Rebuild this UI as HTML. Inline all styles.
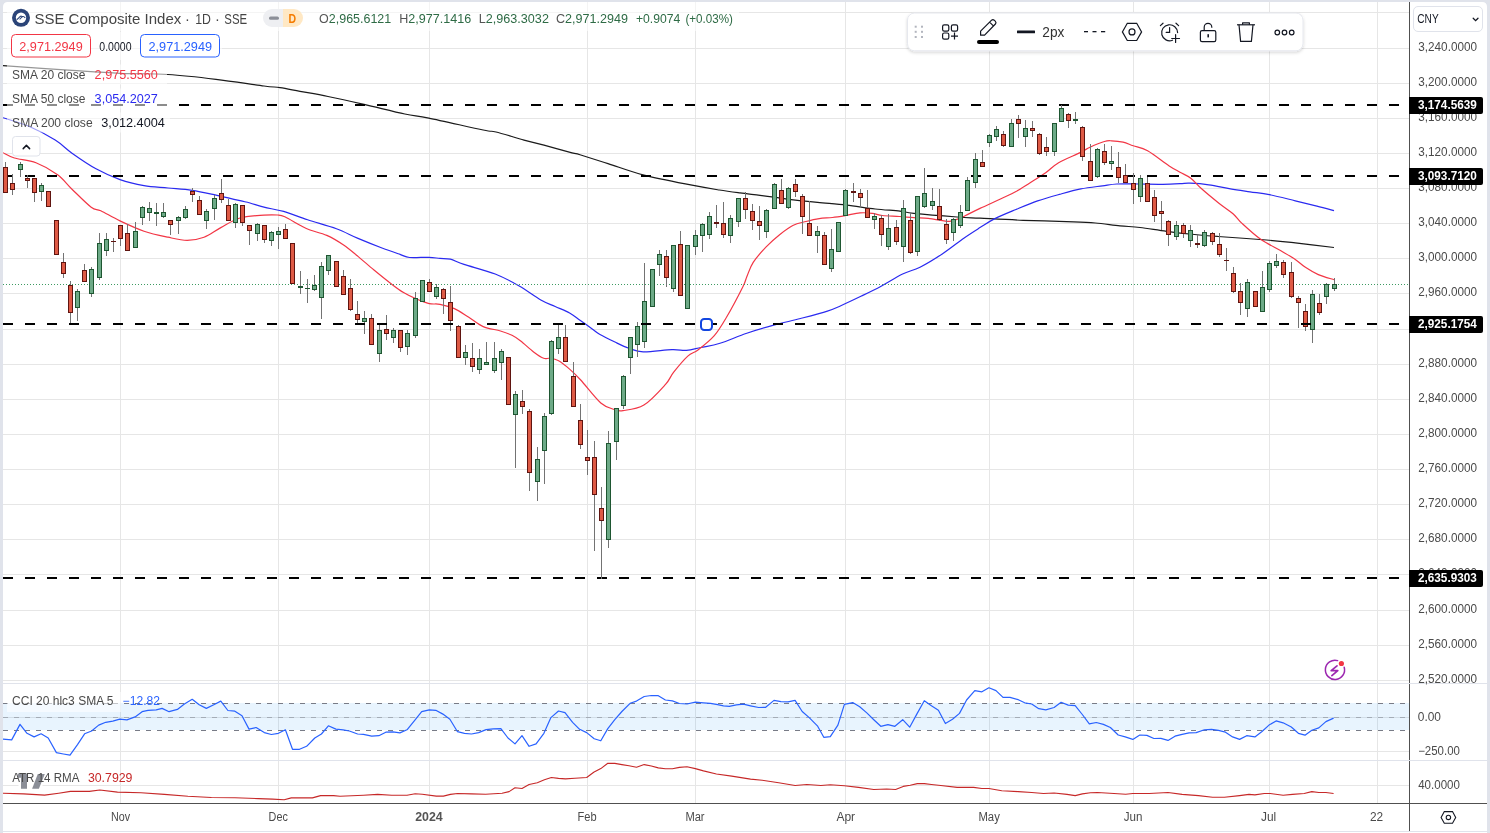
<!DOCTYPE html>
<html><head><meta charset="utf-8"><title>SSE Composite Index</title>
<style>
html,body{margin:0;padding:0;background:#e0e3eb;}
body{width:1490px;height:833px;overflow:hidden;position:relative;font-family:'Liberation Sans', Arial, sans-serif;}
svg{position:absolute;left:0;top:0;}
</style></head><body>
<svg width="1490" height="833" viewBox="0 0 1490 833">
<defs><clipPath id="mainclip"><rect x="3" y="2" width="1406" height="681"/></clipPath></defs>
<rect x="0" y="0" width="1490" height="833" fill="#e0e3eb"/>
<path d="M3,7 Q3,2 8,2 L1482,2 Q1487,2 1487,7 L1487,831 L3,831 Z" fill="#fff"/>
<rect x="3" y="832" width="1484" height="1" fill="#fff"/>
<g fill="#e6e6e6" shape-rendering="crispEdges"><rect x="3" y="12" width="1406" height="1"/><rect x="3" y="48" width="1406" height="1"/><rect x="3" y="83" width="1406" height="1"/><rect x="3" y="118" width="1406" height="1"/><rect x="3" y="153" width="1406" height="1"/><rect x="3" y="188" width="1406" height="1"/><rect x="3" y="223" width="1406" height="1"/><rect x="3" y="258" width="1406" height="1"/><rect x="3" y="293" width="1406" height="1"/><rect x="3" y="329" width="1406" height="1"/><rect x="3" y="364" width="1406" height="1"/><rect x="3" y="399" width="1406" height="1"/><rect x="3" y="434" width="1406" height="1"/><rect x="3" y="469" width="1406" height="1"/><rect x="3" y="504" width="1406" height="1"/><rect x="3" y="539" width="1406" height="1"/><rect x="3" y="574" width="1406" height="1"/><rect x="3" y="610" width="1406" height="1"/><rect x="3" y="645" width="1406" height="1"/><rect x="3" y="680" width="1406" height="1"/><rect x="3" y="717" width="1406" height="1"/><rect x="3" y="751" width="1406" height="1"/><rect x="3" y="785" width="1406" height="1"/><rect x="120" y="2" width="1" height="801"/><rect x="278" y="2" width="1" height="801"/><rect x="429" y="2" width="1" height="801"/><rect x="587" y="2" width="1" height="801"/><rect x="695" y="2" width="1" height="801"/><rect x="845" y="2" width="1" height="801"/><rect x="989" y="2" width="1" height="801"/><rect x="1133" y="2" width="1" height="801"/><rect x="1269" y="2" width="1" height="801"/><rect x="1377" y="2" width="1" height="801"/></g>
<rect x="3" y="703" width="1406" height="27" fill="#2196f3" fill-opacity="0.1"/>
<line x1="3" y1="703.5" x2="1409" y2="703.5" stroke="#787b86" stroke-opacity="1" stroke-width="1" stroke-dasharray="5 6"/>
<line x1="3" y1="717.5" x2="1409" y2="717.5" stroke="#787b86" stroke-opacity="0.5" stroke-width="1" stroke-dasharray="5 6"/>
<line x1="3" y1="730.5" x2="1409" y2="730.5" stroke="#787b86" stroke-opacity="1" stroke-width="1" stroke-dasharray="5 6"/>
<g clip-path="url(#mainclip)">
<path d="M3.00,65.60 C14.50,66.40 52.50,69.12 72.00,70.40 C91.50,71.68 104.00,72.62 120.00,73.30 C136.00,73.98 152.00,73.50 168.00,74.50 C184.00,75.50 200.00,77.38 216.00,79.30 C232.00,81.22 253.33,84.62 264.00,86.00 C274.67,87.38 274.00,86.72 280.00,87.60 C286.00,88.48 292.00,89.82 300.00,91.30 C308.00,92.78 317.33,94.32 328.00,96.50 C338.67,98.68 351.20,101.48 364.00,104.40 C376.80,107.32 394.00,111.72 404.80,114.00 C415.60,116.28 415.73,115.43 428.80,118.10 C441.87,120.77 472.00,127.68 483.20,130.00 C494.40,132.32 489.20,130.32 496.00,132.00 C502.80,133.68 516.00,137.90 524.00,140.10 C532.00,142.30 536.00,143.08 544.00,145.20 C552.00,147.32 566.00,151.20 572.00,152.80 C578.00,154.40 574.00,153.00 580.00,154.80 C586.00,156.60 597.33,160.22 608.00,163.60 C618.67,166.98 630.00,171.50 644.00,175.10 C658.00,178.70 679.45,182.72 692.00,185.20 C704.55,187.68 711.30,188.72 719.30,190.00 C727.30,191.28 733.22,192.02 740.00,192.90 C746.78,193.78 754.33,194.58 760.00,195.30 C765.67,196.02 769.20,196.52 774.00,197.20 C778.80,197.88 781.53,198.53 788.80,199.40 C796.07,200.27 808.00,201.45 817.60,202.40 C827.20,203.35 836.80,204.00 846.40,205.10 C856.00,206.20 866.27,208.00 875.20,209.00 C884.13,210.00 893.57,210.37 900.00,211.10 C906.43,211.83 904.30,212.42 913.80,213.40 C923.30,214.38 945.97,216.20 957.00,217.00 C968.03,217.80 968.97,217.65 980.00,218.20 C991.03,218.75 1007.58,219.70 1023.20,220.30 C1038.82,220.90 1061.68,221.35 1073.70,221.80 C1085.72,222.25 1087.58,222.33 1095.30,223.00 C1103.02,223.67 1112.55,225.05 1120.00,225.80 C1127.45,226.55 1132.23,226.58 1140.00,227.50 C1147.77,228.42 1157.48,230.13 1166.60,231.30 C1175.72,232.47 1186.13,233.63 1194.70,234.50 C1203.27,235.37 1206.03,235.58 1218.00,236.50 C1229.97,237.42 1253.62,238.93 1266.50,240.00 C1279.38,241.07 1284.05,241.65 1295.30,242.90 C1306.55,244.15 1327.55,246.73 1334.00,247.50" fill="none" stroke="#1a1a1a" stroke-width="1.2" stroke-linejoin="round" />
<path d="M3.00,117.70 C7.30,119.13 20.10,122.58 28.80,126.30 C37.50,130.02 48.00,135.52 55.20,140.00 C62.40,144.48 65.20,148.40 72.00,153.20 C78.80,158.00 88.00,164.40 96.00,168.80 C104.00,173.20 112.00,176.80 120.00,179.60 C128.00,182.40 136.00,184.20 144.00,185.60 C152.00,187.00 160.00,187.20 168.00,188.00 C176.00,188.80 184.00,189.20 192.00,190.40 C200.00,191.60 208.00,193.48 216.00,195.20 C224.00,196.92 234.33,199.40 240.00,200.70 C245.67,202.00 246.00,201.92 250.00,203.00 C254.00,204.08 258.40,205.80 264.00,207.20 C269.60,208.60 276.33,209.30 283.60,211.40 C290.87,213.50 298.80,216.90 307.60,219.80 C316.40,222.70 328.00,225.70 336.40,228.80 C344.80,231.90 350.40,235.20 358.00,238.40 C365.60,241.60 375.00,245.33 382.00,248.00 C389.00,250.67 395.40,252.82 400.00,254.40 C404.60,255.98 404.80,257.02 409.60,257.50 C414.40,257.98 423.73,257.15 428.80,257.30 C433.87,257.45 436.40,258.08 440.00,258.40 C443.60,258.72 446.40,258.20 450.40,259.20 C454.40,260.20 456.53,261.93 464.00,264.40 C471.47,266.87 486.00,270.40 495.20,274.00 C504.40,277.60 511.60,281.67 519.20,286.00 C526.80,290.33 534.80,296.58 540.80,300.00 C546.80,303.42 550.40,304.33 555.20,306.50 C560.00,308.67 565.47,310.72 569.60,313.00 C573.73,315.28 576.00,317.37 580.00,320.20 C584.00,323.03 590.27,327.60 593.60,330.00 C596.93,332.40 596.53,332.63 600.00,334.60 C603.47,336.57 609.60,339.53 614.40,341.80 C619.20,344.07 624.00,346.52 628.80,348.20 C633.60,349.88 636.00,351.65 643.20,351.90 C650.40,352.15 664.80,349.95 672.00,349.70 C679.20,349.45 681.60,350.77 686.40,350.40 C691.20,350.03 695.20,348.68 700.80,347.50 C706.40,346.32 712.33,345.68 720.00,343.30 C727.67,340.92 737.85,336.22 746.80,333.20 C755.75,330.18 764.75,327.65 773.70,325.20 C782.65,322.75 791.55,320.85 800.50,318.50 C809.45,316.15 820.68,313.23 827.40,311.10 C834.12,308.97 835.22,308.17 840.80,305.70 C846.38,303.23 854.18,299.55 860.90,296.30 C867.62,293.05 874.15,289.92 881.10,286.20 C888.05,282.48 896.12,277.17 902.60,274.00 C909.08,270.83 913.33,270.58 920.00,267.20 C926.67,263.82 935.23,258.58 942.60,253.70 C949.97,248.82 957.97,242.25 964.20,237.90 C970.43,233.55 974.97,230.77 980.00,227.60 C985.03,224.43 988.40,221.92 994.40,218.90 C1000.40,215.88 1008.80,212.50 1016.00,209.50 C1023.20,206.50 1030.38,203.42 1037.60,200.90 C1044.82,198.38 1052.08,196.40 1059.30,194.40 C1066.52,192.40 1073.70,190.33 1080.90,188.90 C1088.10,187.47 1096.50,186.62 1102.50,185.80 C1108.50,184.98 1110.90,184.30 1116.90,184.00 C1122.90,183.70 1131.30,183.95 1138.50,184.00 C1145.70,184.05 1153.18,184.37 1160.10,184.30 C1167.02,184.23 1175.00,183.78 1180.00,183.60 C1185.00,183.42 1185.30,183.00 1190.10,183.20 C1194.90,183.40 1202.08,183.87 1208.80,184.80 C1215.52,185.73 1223.53,187.63 1230.40,188.80 C1237.27,189.97 1243.52,190.83 1250.00,191.80 C1256.48,192.77 1261.75,193.10 1269.30,194.60 C1276.85,196.10 1287.37,198.88 1295.30,200.80 C1303.23,202.72 1310.45,204.45 1316.90,206.10 C1323.35,207.75 1331.15,209.93 1334.00,210.70" fill="none" stroke="#2a2af0" stroke-width="1.2" stroke-linejoin="round" />
<path d="M3.00,152.70 C4.90,153.58 8.90,156.32 14.40,158.00 C19.90,159.68 28.80,160.00 36.00,162.80 C43.20,165.60 51.60,170.40 57.60,174.80 C63.60,179.20 66.40,183.80 72.00,189.20 C77.60,194.60 86.40,203.60 91.20,207.20 C96.00,210.80 96.00,208.52 100.80,210.80 C105.60,213.08 112.80,217.50 120.00,220.90 C127.20,224.30 136.00,228.48 144.00,231.20 C152.00,233.92 160.80,235.68 168.00,237.20 C175.20,238.72 181.20,240.30 187.20,240.30 C193.20,240.30 198.40,239.32 204.00,237.20 C209.60,235.08 214.80,230.80 220.80,227.60 C226.80,224.40 232.80,220.08 240.00,218.00 C247.20,215.92 257.73,215.60 264.00,215.10 C270.27,214.60 274.13,214.72 277.60,215.00 C281.07,215.28 281.07,215.10 284.80,216.80 C288.53,218.50 295.80,223.00 300.00,225.20 C304.20,227.40 305.53,228.30 310.00,230.00 C314.47,231.70 321.20,232.90 326.80,235.40 C332.40,237.90 338.40,241.50 343.60,245.00 C348.80,248.50 352.93,252.23 358.00,256.40 C363.07,260.57 368.33,265.33 374.00,270.00 C379.67,274.67 387.00,280.60 392.00,284.40 C397.00,288.20 400.00,290.40 404.00,292.80 C408.00,295.20 411.80,297.00 416.00,298.80 C420.20,300.60 425.20,302.68 429.20,303.60 C433.20,304.52 435.80,303.47 440.00,304.30 C444.20,305.13 449.60,306.43 454.40,308.60 C459.20,310.77 464.00,314.30 468.80,317.30 C473.60,320.30 477.92,324.32 483.20,326.60 C488.48,328.88 495.70,329.55 500.50,331.00 C505.30,332.45 508.63,333.63 512.00,335.30 C515.37,336.97 517.10,338.23 520.70,341.00 C524.30,343.77 529.77,349.02 533.60,351.90 C537.43,354.78 541.05,357.23 543.70,358.30 C546.35,359.37 547.10,357.93 549.50,358.30 C551.90,358.67 554.75,358.70 558.10,360.50 C561.45,362.30 565.83,365.85 569.60,369.10 C573.37,372.35 575.50,374.35 580.70,380.00 C585.90,385.65 595.18,398.08 600.80,403.00 C606.42,407.92 610.70,408.23 614.40,409.50 C618.10,410.77 618.08,411.33 623.00,410.60 C627.92,409.87 636.85,409.42 643.90,405.10 C650.95,400.78 660.37,390.15 665.30,384.70 C670.23,379.25 669.75,377.17 673.50,372.40 C677.25,367.63 683.72,359.83 687.80,356.10 C691.88,352.37 693.58,353.40 698.00,350.00 C702.42,346.60 709.55,341.15 714.30,335.70 C719.05,330.25 721.73,325.47 726.50,317.30 C731.27,309.13 739.50,293.50 742.90,286.70 C746.30,279.90 745.18,280.55 746.90,276.50 C748.62,272.45 749.95,267.38 753.20,262.40 C756.45,257.42 762.00,251.22 766.40,246.60 C770.80,241.98 775.20,238.22 779.60,234.70 C784.00,231.18 788.40,227.70 792.80,225.50 C797.20,223.30 801.60,222.65 806.00,221.50 C810.40,220.35 814.80,219.27 819.20,218.60 C823.60,217.93 828.00,218.02 832.40,217.50 C836.80,216.98 841.00,216.27 845.60,215.50 C850.20,214.73 855.55,213.27 860.00,212.90 C864.45,212.53 868.57,212.87 872.30,213.30 C876.03,213.73 877.88,214.97 882.40,215.50 C886.92,216.03 894.17,216.13 899.40,216.50 C904.63,216.87 909.00,217.38 913.80,217.70 C918.60,218.02 923.40,217.92 928.20,218.40 C933.00,218.88 939.00,220.12 942.60,220.60 C946.20,221.08 946.85,221.72 949.80,221.30 C952.75,220.88 957.67,219.07 960.30,218.10 C962.93,217.13 962.32,217.12 965.60,215.50 C968.88,213.88 974.10,211.20 980.00,208.40 C985.90,205.60 995.00,201.52 1001.00,198.70 C1007.00,195.88 1011.20,194.13 1016.00,191.50 C1020.80,188.87 1024.85,186.02 1029.80,182.90 C1034.75,179.78 1040.90,176.17 1045.70,172.80 C1050.50,169.43 1052.85,166.07 1058.60,162.70 C1064.35,159.33 1074.97,155.18 1080.20,152.60 C1085.43,150.02 1085.97,149.05 1090.00,147.20 C1094.03,145.35 1100.80,142.57 1104.40,141.50 C1108.00,140.43 1108.48,140.68 1111.60,140.80 C1114.72,140.92 1119.50,141.37 1123.10,142.20 C1126.70,143.03 1129.12,144.37 1133.20,145.80 C1137.28,147.23 1141.60,147.43 1147.60,150.80 C1153.60,154.17 1163.80,162.43 1169.20,166.00 C1174.60,169.57 1176.40,170.17 1180.00,172.20 C1183.60,174.23 1187.20,175.43 1190.80,178.20 C1194.40,180.97 1196.92,184.63 1201.60,188.80 C1206.28,192.97 1213.62,199.00 1218.90,203.20 C1224.18,207.40 1229.45,210.63 1233.30,214.00 C1237.15,217.37 1237.43,219.18 1242.00,223.40 C1246.57,227.62 1254.22,234.73 1260.70,239.30 C1267.18,243.87 1275.13,247.45 1280.90,250.80 C1286.67,254.15 1291.22,256.65 1295.30,259.40 C1299.38,262.15 1301.57,264.77 1305.40,267.30 C1309.23,269.83 1313.53,272.53 1318.30,274.60 C1323.07,276.67 1331.38,278.85 1334.00,279.70" fill="none" stroke="#f23645" stroke-width="1.2" stroke-linejoin="round" />
</g>
<line x1="3" y1="105" x2="1409" y2="105" stroke="#000" stroke-width="2" stroke-dasharray="10 12" shape-rendering="crispEdges"/>
<line x1="3" y1="176" x2="1409" y2="176" stroke="#000" stroke-width="2" stroke-dasharray="10 12" shape-rendering="crispEdges"/>
<line x1="3" y1="578" x2="1409" y2="578" stroke="#000" stroke-width="2" stroke-dasharray="10 12" shape-rendering="crispEdges"/>
<line x1="3" y1="284.5" x2="1409" y2="284.5" stroke="#3d9a62" stroke-width="1" stroke-dasharray="1 2" shape-rendering="crispEdges"/>
<g shape-rendering="crispEdges" clip-path="url(#mainclip)"><rect x="5" y="162" width="1" height="31" fill="#737373"/><rect x="3" y="167" width="5" height="26" fill="#5f1410"/><rect x="4" y="168" width="3" height="24" fill="#de5a45"/><rect x="12" y="174" width="1" height="21" fill="#737373"/><rect x="10" y="183" width="5" height="7" fill="#5f1410"/><rect x="11" y="184" width="3" height="5" fill="#de5a45"/><rect x="20" y="162" width="1" height="15" fill="#737373"/><rect x="18" y="164" width="5" height="6" fill="#1e5631"/><rect x="19" y="165" width="3" height="4" fill="#6daa87"/><rect x="27" y="175" width="1" height="13" fill="#737373"/><rect x="25" y="178" width="5" height="3" fill="#5f1410"/><rect x="26" y="179" width="3" height="1" fill="#de5a45"/><rect x="34" y="178" width="1" height="24" fill="#737373"/><rect x="32" y="178" width="5" height="15" fill="#5f1410"/><rect x="33" y="179" width="3" height="13" fill="#de5a45"/><rect x="41" y="183" width="1" height="18" fill="#737373"/><rect x="39" y="185" width="5" height="7" fill="#1e5631"/><rect x="40" y="186" width="3" height="5" fill="#6daa87"/><rect x="48" y="191" width="1" height="16" fill="#737373"/><rect x="46" y="191" width="5" height="16" fill="#5f1410"/><rect x="47" y="192" width="3" height="14" fill="#de5a45"/><rect x="56" y="220" width="1" height="35" fill="#737373"/><rect x="54" y="220" width="5" height="35" fill="#5f1410"/><rect x="55" y="221" width="3" height="33" fill="#de5a45"/><rect x="63" y="253" width="1" height="25" fill="#737373"/><rect x="61" y="262" width="5" height="12" fill="#5f1410"/><rect x="62" y="263" width="3" height="10" fill="#de5a45"/><rect x="70" y="281" width="1" height="42" fill="#737373"/><rect x="68" y="285" width="5" height="28" fill="#5f1410"/><rect x="69" y="286" width="3" height="26" fill="#de5a45"/><rect x="77" y="289" width="1" height="32" fill="#737373"/><rect x="75" y="291" width="5" height="17" fill="#1e5631"/><rect x="76" y="292" width="3" height="15" fill="#6daa87"/><rect x="84" y="264" width="1" height="18" fill="#737373"/><rect x="82" y="270" width="5" height="12" fill="#5f1410"/><rect x="83" y="271" width="3" height="10" fill="#de5a45"/><rect x="91" y="267" width="1" height="30" fill="#737373"/><rect x="89" y="269" width="5" height="25" fill="#1e5631"/><rect x="90" y="270" width="3" height="23" fill="#6daa87"/><rect x="99" y="233" width="1" height="47" fill="#737373"/><rect x="97" y="243" width="5" height="35" fill="#1e5631"/><rect x="98" y="244" width="3" height="33" fill="#6daa87"/><rect x="106" y="233" width="1" height="23" fill="#737373"/><rect x="104" y="239" width="5" height="12" fill="#1e5631"/><rect x="105" y="240" width="3" height="10" fill="#6daa87"/><rect x="113" y="238" width="1" height="14" fill="#737373"/><rect x="111" y="241" width="5" height="1" fill="#5f1410"/><rect x="120" y="225" width="1" height="21" fill="#737373"/><rect x="118" y="225" width="5" height="14" fill="#5f1410"/><rect x="119" y="226" width="3" height="12" fill="#de5a45"/><rect x="127" y="224" width="1" height="27" fill="#737373"/><rect x="125" y="233" width="5" height="18" fill="#5f1410"/><rect x="126" y="234" width="3" height="16" fill="#de5a45"/><rect x="135" y="222" width="1" height="26" fill="#737373"/><rect x="133" y="231" width="5" height="17" fill="#1e5631"/><rect x="134" y="232" width="3" height="15" fill="#6daa87"/><rect x="142" y="206" width="1" height="19" fill="#737373"/><rect x="140" y="207" width="5" height="11" fill="#1e5631"/><rect x="141" y="208" width="3" height="9" fill="#6daa87"/><rect x="149" y="202" width="1" height="19" fill="#737373"/><rect x="147" y="208" width="5" height="5" fill="#1e5631"/><rect x="148" y="209" width="3" height="3" fill="#6daa87"/><rect x="156" y="203" width="1" height="23" fill="#737373"/><rect x="154" y="212" width="5" height="2" fill="#1e5631"/><rect x="163" y="203" width="1" height="15" fill="#737373"/><rect x="161" y="212" width="5" height="5" fill="#1e5631"/><rect x="162" y="213" width="3" height="3" fill="#6daa87"/><rect x="170" y="220" width="1" height="15" fill="#737373"/><rect x="168" y="220" width="5" height="5" fill="#5f1410"/><rect x="169" y="221" width="3" height="3" fill="#de5a45"/><rect x="178" y="216" width="1" height="18" fill="#737373"/><rect x="176" y="217" width="5" height="4" fill="#1e5631"/><rect x="177" y="218" width="3" height="2" fill="#6daa87"/><rect x="185" y="206" width="1" height="13" fill="#737373"/><rect x="183" y="209" width="5" height="9" fill="#1e5631"/><rect x="184" y="210" width="3" height="7" fill="#6daa87"/><rect x="192" y="188" width="1" height="14" fill="#737373"/><rect x="190" y="191" width="5" height="4" fill="#5f1410"/><rect x="191" y="192" width="3" height="2" fill="#de5a45"/><rect x="199" y="196" width="1" height="19" fill="#737373"/><rect x="197" y="200" width="5" height="15" fill="#5f1410"/><rect x="198" y="201" width="3" height="13" fill="#de5a45"/><rect x="206" y="209" width="1" height="20" fill="#737373"/><rect x="204" y="211" width="5" height="10" fill="#1e5631"/><rect x="205" y="212" width="3" height="8" fill="#6daa87"/><rect x="214" y="195" width="1" height="25" fill="#737373"/><rect x="212" y="198" width="5" height="11" fill="#1e5631"/><rect x="213" y="199" width="3" height="9" fill="#6daa87"/><rect x="221" y="179" width="1" height="24" fill="#737373"/><rect x="219" y="193" width="5" height="7" fill="#5f1410"/><rect x="220" y="194" width="3" height="5" fill="#de5a45"/><rect x="228" y="199" width="1" height="22" fill="#737373"/><rect x="226" y="205" width="5" height="16" fill="#5f1410"/><rect x="227" y="206" width="3" height="14" fill="#de5a45"/><rect x="235" y="203" width="1" height="25" fill="#737373"/><rect x="233" y="204" width="5" height="19" fill="#1e5631"/><rect x="234" y="205" width="3" height="17" fill="#6daa87"/><rect x="242" y="205" width="1" height="21" fill="#737373"/><rect x="240" y="205" width="5" height="18" fill="#5f1410"/><rect x="241" y="206" width="3" height="16" fill="#de5a45"/><rect x="249" y="225" width="1" height="20" fill="#737373"/><rect x="247" y="225" width="5" height="6" fill="#5f1410"/><rect x="248" y="226" width="3" height="4" fill="#de5a45"/><rect x="257" y="223" width="1" height="18" fill="#737373"/><rect x="255" y="224" width="5" height="10" fill="#1e5631"/><rect x="256" y="225" width="3" height="8" fill="#6daa87"/><rect x="264" y="225" width="1" height="18" fill="#737373"/><rect x="262" y="225" width="5" height="15" fill="#5f1410"/><rect x="263" y="226" width="3" height="13" fill="#de5a45"/><rect x="271" y="231" width="1" height="15" fill="#737373"/><rect x="269" y="232" width="5" height="9" fill="#1e5631"/><rect x="270" y="233" width="3" height="7" fill="#6daa87"/><rect x="278" y="227" width="1" height="22" fill="#737373"/><rect x="276" y="231" width="5" height="4" fill="#1e5631"/><rect x="277" y="232" width="3" height="2" fill="#6daa87"/><rect x="285" y="224" width="1" height="15" fill="#737373"/><rect x="283" y="229" width="5" height="10" fill="#5f1410"/><rect x="284" y="230" width="3" height="8" fill="#de5a45"/><rect x="292" y="243" width="1" height="41" fill="#737373"/><rect x="290" y="243" width="5" height="41" fill="#5f1410"/><rect x="291" y="244" width="3" height="39" fill="#de5a45"/><rect x="300" y="271" width="1" height="23" fill="#737373"/><rect x="298" y="286" width="5" height="2" fill="#1e5631"/><rect x="307" y="279" width="1" height="24" fill="#737373"/><rect x="305" y="288" width="5" height="1" fill="#1e5631"/><rect x="314" y="275" width="1" height="16" fill="#737373"/><rect x="312" y="285" width="5" height="5" fill="#1e5631"/><rect x="313" y="286" width="3" height="3" fill="#6daa87"/><rect x="321" y="262" width="1" height="57" fill="#737373"/><rect x="319" y="266" width="5" height="32" fill="#1e5631"/><rect x="320" y="267" width="3" height="30" fill="#6daa87"/><rect x="328" y="255" width="1" height="20" fill="#737373"/><rect x="326" y="255" width="5" height="16" fill="#1e5631"/><rect x="327" y="256" width="3" height="14" fill="#6daa87"/><rect x="336" y="261" width="1" height="26" fill="#737373"/><rect x="334" y="261" width="5" height="26" fill="#5f1410"/><rect x="335" y="262" width="3" height="24" fill="#de5a45"/><rect x="343" y="270" width="1" height="25" fill="#737373"/><rect x="341" y="276" width="5" height="19" fill="#5f1410"/><rect x="342" y="277" width="3" height="17" fill="#de5a45"/><rect x="350" y="279" width="1" height="32" fill="#737373"/><rect x="348" y="288" width="5" height="22" fill="#5f1410"/><rect x="349" y="289" width="3" height="20" fill="#de5a45"/><rect x="357" y="301" width="1" height="22" fill="#737373"/><rect x="355" y="314" width="5" height="6" fill="#5f1410"/><rect x="356" y="315" width="3" height="4" fill="#de5a45"/><rect x="364" y="311" width="1" height="23" fill="#737373"/><rect x="362" y="318" width="5" height="4" fill="#1e5631"/><rect x="363" y="319" width="3" height="2" fill="#6daa87"/><rect x="371" y="314" width="1" height="31" fill="#737373"/><rect x="369" y="318" width="5" height="27" fill="#5f1410"/><rect x="370" y="319" width="3" height="25" fill="#de5a45"/><rect x="379" y="325" width="1" height="37" fill="#737373"/><rect x="377" y="330" width="5" height="24" fill="#1e5631"/><rect x="378" y="331" width="3" height="22" fill="#6daa87"/><rect x="386" y="315" width="1" height="25" fill="#737373"/><rect x="384" y="329" width="5" height="5" fill="#5f1410"/><rect x="385" y="330" width="3" height="3" fill="#de5a45"/><rect x="393" y="328" width="1" height="15" fill="#737373"/><rect x="391" y="330" width="5" height="8" fill="#1e5631"/><rect x="392" y="331" width="3" height="6" fill="#6daa87"/><rect x="400" y="330" width="1" height="22" fill="#737373"/><rect x="398" y="330" width="5" height="18" fill="#5f1410"/><rect x="399" y="331" width="3" height="16" fill="#de5a45"/><rect x="407" y="330" width="1" height="25" fill="#737373"/><rect x="405" y="333" width="5" height="14" fill="#1e5631"/><rect x="406" y="334" width="3" height="12" fill="#6daa87"/><rect x="415" y="292" width="1" height="46" fill="#737373"/><rect x="413" y="298" width="5" height="38" fill="#1e5631"/><rect x="414" y="299" width="3" height="36" fill="#6daa87"/><rect x="422" y="280" width="1" height="22" fill="#737373"/><rect x="420" y="280" width="5" height="22" fill="#1e5631"/><rect x="421" y="281" width="3" height="20" fill="#6daa87"/><rect x="429" y="279" width="1" height="13" fill="#737373"/><rect x="427" y="282" width="5" height="10" fill="#5f1410"/><rect x="428" y="283" width="3" height="8" fill="#de5a45"/><rect x="436" y="284" width="1" height="15" fill="#737373"/><rect x="434" y="287" width="5" height="10" fill="#1e5631"/><rect x="435" y="288" width="3" height="8" fill="#6daa87"/><rect x="443" y="288" width="1" height="26" fill="#737373"/><rect x="441" y="289" width="5" height="10" fill="#5f1410"/><rect x="442" y="290" width="3" height="8" fill="#de5a45"/><rect x="450" y="286" width="1" height="45" fill="#737373"/><rect x="448" y="302" width="5" height="19" fill="#5f1410"/><rect x="449" y="303" width="3" height="17" fill="#de5a45"/><rect x="458" y="325" width="1" height="33" fill="#737373"/><rect x="456" y="326" width="5" height="32" fill="#5f1410"/><rect x="457" y="327" width="3" height="30" fill="#de5a45"/><rect x="465" y="345" width="1" height="20" fill="#737373"/><rect x="463" y="352" width="5" height="6" fill="#1e5631"/><rect x="464" y="353" width="3" height="4" fill="#6daa87"/><rect x="472" y="343" width="1" height="29" fill="#737373"/><rect x="470" y="358" width="5" height="9" fill="#5f1410"/><rect x="471" y="359" width="3" height="7" fill="#de5a45"/><rect x="479" y="349" width="1" height="25" fill="#737373"/><rect x="477" y="358" width="5" height="12" fill="#1e5631"/><rect x="478" y="359" width="3" height="10" fill="#6daa87"/><rect x="486" y="342" width="1" height="23" fill="#737373"/><rect x="484" y="362" width="5" height="3" fill="#1e5631"/><rect x="485" y="363" width="3" height="1" fill="#6daa87"/><rect x="494" y="342" width="1" height="31" fill="#737373"/><rect x="492" y="358" width="5" height="13" fill="#1e5631"/><rect x="493" y="359" width="3" height="11" fill="#6daa87"/><rect x="501" y="349" width="1" height="31" fill="#737373"/><rect x="499" y="351" width="5" height="12" fill="#1e5631"/><rect x="500" y="352" width="3" height="10" fill="#6daa87"/><rect x="508" y="357" width="1" height="48" fill="#737373"/><rect x="506" y="357" width="5" height="48" fill="#5f1410"/><rect x="507" y="358" width="3" height="46" fill="#de5a45"/><rect x="515" y="391" width="1" height="77" fill="#737373"/><rect x="513" y="394" width="5" height="21" fill="#1e5631"/><rect x="514" y="395" width="3" height="19" fill="#6daa87"/><rect x="522" y="390" width="1" height="24" fill="#737373"/><rect x="520" y="401" width="5" height="6" fill="#5f1410"/><rect x="521" y="402" width="3" height="4" fill="#de5a45"/><rect x="529" y="409" width="1" height="82" fill="#737373"/><rect x="527" y="411" width="5" height="62" fill="#5f1410"/><rect x="528" y="412" width="3" height="60" fill="#de5a45"/><rect x="537" y="447" width="1" height="54" fill="#737373"/><rect x="535" y="459" width="5" height="23" fill="#1e5631"/><rect x="536" y="460" width="3" height="21" fill="#6daa87"/><rect x="544" y="413" width="1" height="71" fill="#737373"/><rect x="542" y="416" width="5" height="35" fill="#1e5631"/><rect x="543" y="417" width="3" height="33" fill="#6daa87"/><rect x="551" y="340" width="1" height="75" fill="#737373"/><rect x="549" y="341" width="5" height="73" fill="#1e5631"/><rect x="550" y="342" width="3" height="71" fill="#6daa87"/><rect x="558" y="324" width="1" height="30" fill="#737373"/><rect x="556" y="337" width="5" height="12" fill="#1e5631"/><rect x="557" y="338" width="3" height="10" fill="#6daa87"/><rect x="565" y="325" width="1" height="37" fill="#737373"/><rect x="563" y="337" width="5" height="25" fill="#5f1410"/><rect x="564" y="338" width="3" height="23" fill="#de5a45"/><rect x="573" y="362" width="1" height="45" fill="#737373"/><rect x="571" y="376" width="5" height="31" fill="#5f1410"/><rect x="572" y="377" width="3" height="29" fill="#de5a45"/><rect x="580" y="404" width="1" height="45" fill="#737373"/><rect x="578" y="420" width="5" height="25" fill="#5f1410"/><rect x="579" y="421" width="3" height="23" fill="#de5a45"/><rect x="587" y="430" width="1" height="45" fill="#737373"/><rect x="585" y="457" width="5" height="4" fill="#5f1410"/><rect x="586" y="458" width="3" height="2" fill="#de5a45"/><rect x="594" y="441" width="1" height="110" fill="#737373"/><rect x="592" y="457" width="5" height="38" fill="#5f1410"/><rect x="593" y="458" width="3" height="36" fill="#de5a45"/><rect x="601" y="487" width="1" height="92" fill="#737373"/><rect x="599" y="508" width="5" height="13" fill="#5f1410"/><rect x="600" y="509" width="3" height="11" fill="#de5a45"/><rect x="608" y="431" width="1" height="117" fill="#737373"/><rect x="606" y="443" width="5" height="97" fill="#1e5631"/><rect x="607" y="444" width="3" height="95" fill="#6daa87"/><rect x="616" y="408" width="1" height="52" fill="#737373"/><rect x="614" y="408" width="5" height="34" fill="#1e5631"/><rect x="615" y="409" width="3" height="32" fill="#6daa87"/><rect x="623" y="375" width="1" height="34" fill="#737373"/><rect x="621" y="376" width="5" height="30" fill="#1e5631"/><rect x="622" y="377" width="3" height="28" fill="#6daa87"/><rect x="630" y="337" width="1" height="37" fill="#737373"/><rect x="628" y="337" width="5" height="21" fill="#1e5631"/><rect x="629" y="338" width="3" height="19" fill="#6daa87"/><rect x="637" y="322" width="1" height="35" fill="#737373"/><rect x="635" y="326" width="5" height="19" fill="#1e5631"/><rect x="636" y="327" width="3" height="17" fill="#6daa87"/><rect x="644" y="263" width="1" height="85" fill="#737373"/><rect x="642" y="301" width="5" height="41" fill="#1e5631"/><rect x="643" y="302" width="3" height="39" fill="#6daa87"/><rect x="652" y="269" width="1" height="38" fill="#737373"/><rect x="650" y="269" width="5" height="38" fill="#1e5631"/><rect x="651" y="270" width="3" height="36" fill="#6daa87"/><rect x="659" y="250" width="1" height="26" fill="#737373"/><rect x="657" y="254" width="5" height="11" fill="#1e5631"/><rect x="658" y="255" width="3" height="9" fill="#6daa87"/><rect x="666" y="250" width="1" height="37" fill="#737373"/><rect x="664" y="256" width="5" height="22" fill="#5f1410"/><rect x="665" y="257" width="3" height="20" fill="#de5a45"/><rect x="673" y="245" width="1" height="47" fill="#737373"/><rect x="671" y="245" width="5" height="44" fill="#1e5631"/><rect x="672" y="246" width="3" height="42" fill="#6daa87"/><rect x="680" y="231" width="1" height="65" fill="#737373"/><rect x="678" y="244" width="5" height="52" fill="#5f1410"/><rect x="679" y="245" width="3" height="50" fill="#de5a45"/><rect x="687" y="245" width="1" height="64" fill="#737373"/><rect x="685" y="245" width="5" height="64" fill="#1e5631"/><rect x="686" y="246" width="3" height="62" fill="#6daa87"/><rect x="695" y="230" width="1" height="25" fill="#737373"/><rect x="693" y="235" width="5" height="12" fill="#1e5631"/><rect x="694" y="236" width="3" height="10" fill="#6daa87"/><rect x="702" y="223" width="1" height="29" fill="#737373"/><rect x="700" y="224" width="5" height="12" fill="#1e5631"/><rect x="701" y="225" width="3" height="10" fill="#6daa87"/><rect x="709" y="212" width="1" height="27" fill="#737373"/><rect x="707" y="216" width="5" height="19" fill="#1e5631"/><rect x="708" y="217" width="3" height="17" fill="#6daa87"/><rect x="716" y="205" width="1" height="23" fill="#737373"/><rect x="714" y="222" width="5" height="2" fill="#5f1410"/><rect x="723" y="202" width="1" height="36" fill="#737373"/><rect x="721" y="223" width="5" height="12" fill="#5f1410"/><rect x="722" y="224" width="3" height="10" fill="#de5a45"/><rect x="730" y="215" width="1" height="28" fill="#737373"/><rect x="728" y="218" width="5" height="18" fill="#1e5631"/><rect x="729" y="219" width="3" height="16" fill="#6daa87"/><rect x="738" y="198" width="1" height="29" fill="#737373"/><rect x="736" y="198" width="5" height="24" fill="#1e5631"/><rect x="737" y="199" width="3" height="22" fill="#6daa87"/><rect x="745" y="192" width="1" height="27" fill="#737373"/><rect x="743" y="198" width="5" height="12" fill="#5f1410"/><rect x="744" y="199" width="3" height="10" fill="#de5a45"/><rect x="752" y="204" width="1" height="26" fill="#737373"/><rect x="750" y="211" width="5" height="10" fill="#5f1410"/><rect x="751" y="212" width="3" height="8" fill="#de5a45"/><rect x="759" y="206" width="1" height="34" fill="#737373"/><rect x="757" y="221" width="5" height="5" fill="#5f1410"/><rect x="758" y="222" width="3" height="3" fill="#de5a45"/><rect x="766" y="209" width="1" height="29" fill="#737373"/><rect x="764" y="210" width="5" height="22" fill="#1e5631"/><rect x="765" y="211" width="3" height="20" fill="#6daa87"/><rect x="774" y="183" width="1" height="26" fill="#737373"/><rect x="772" y="184" width="5" height="25" fill="#1e5631"/><rect x="773" y="185" width="3" height="23" fill="#6daa87"/><rect x="781" y="179" width="1" height="25" fill="#737373"/><rect x="779" y="190" width="5" height="14" fill="#5f1410"/><rect x="780" y="191" width="3" height="12" fill="#de5a45"/><rect x="788" y="187" width="1" height="22" fill="#737373"/><rect x="786" y="188" width="5" height="20" fill="#1e5631"/><rect x="787" y="189" width="3" height="18" fill="#6daa87"/><rect x="795" y="179" width="1" height="18" fill="#737373"/><rect x="793" y="184" width="5" height="8" fill="#5f1410"/><rect x="794" y="185" width="3" height="6" fill="#de5a45"/><rect x="802" y="194" width="1" height="40" fill="#737373"/><rect x="800" y="196" width="5" height="21" fill="#5f1410"/><rect x="801" y="197" width="3" height="19" fill="#de5a45"/><rect x="809" y="201" width="1" height="35" fill="#737373"/><rect x="807" y="223" width="5" height="13" fill="#5f1410"/><rect x="808" y="224" width="3" height="11" fill="#de5a45"/><rect x="817" y="226" width="1" height="27" fill="#737373"/><rect x="815" y="231" width="5" height="5" fill="#1e5631"/><rect x="816" y="232" width="3" height="3" fill="#6daa87"/><rect x="824" y="232" width="1" height="33" fill="#737373"/><rect x="822" y="235" width="5" height="30" fill="#5f1410"/><rect x="823" y="236" width="3" height="28" fill="#de5a45"/><rect x="831" y="229" width="1" height="43" fill="#737373"/><rect x="829" y="249" width="5" height="20" fill="#1e5631"/><rect x="830" y="250" width="3" height="18" fill="#6daa87"/><rect x="838" y="222" width="1" height="30" fill="#737373"/><rect x="836" y="222" width="5" height="30" fill="#1e5631"/><rect x="837" y="223" width="3" height="28" fill="#6daa87"/><rect x="845" y="189" width="1" height="27" fill="#737373"/><rect x="843" y="190" width="5" height="26" fill="#1e5631"/><rect x="844" y="191" width="3" height="24" fill="#6daa87"/><rect x="853" y="183" width="1" height="19" fill="#737373"/><rect x="851" y="191" width="5" height="2" fill="#5f1410"/><rect x="860" y="189" width="1" height="19" fill="#737373"/><rect x="858" y="193" width="5" height="5" fill="#5f1410"/><rect x="859" y="194" width="3" height="3" fill="#de5a45"/><rect x="867" y="190" width="1" height="28" fill="#737373"/><rect x="865" y="208" width="5" height="10" fill="#5f1410"/><rect x="866" y="209" width="3" height="8" fill="#de5a45"/><rect x="874" y="213" width="1" height="16" fill="#737373"/><rect x="872" y="216" width="5" height="4" fill="#1e5631"/><rect x="873" y="217" width="3" height="2" fill="#6daa87"/><rect x="881" y="215" width="1" height="31" fill="#737373"/><rect x="879" y="218" width="5" height="17" fill="#5f1410"/><rect x="880" y="219" width="3" height="15" fill="#de5a45"/><rect x="888" y="214" width="1" height="36" fill="#737373"/><rect x="886" y="228" width="5" height="19" fill="#1e5631"/><rect x="887" y="229" width="3" height="17" fill="#6daa87"/><rect x="896" y="220" width="1" height="25" fill="#737373"/><rect x="894" y="227" width="5" height="15" fill="#5f1410"/><rect x="895" y="228" width="3" height="13" fill="#de5a45"/><rect x="903" y="200" width="1" height="62" fill="#737373"/><rect x="901" y="208" width="5" height="39" fill="#1e5631"/><rect x="902" y="209" width="3" height="37" fill="#6daa87"/><rect x="910" y="213" width="1" height="41" fill="#737373"/><rect x="908" y="220" width="5" height="33" fill="#5f1410"/><rect x="909" y="221" width="3" height="31" fill="#de5a45"/><rect x="917" y="196" width="1" height="60" fill="#737373"/><rect x="915" y="196" width="5" height="56" fill="#1e5631"/><rect x="916" y="197" width="3" height="54" fill="#6daa87"/><rect x="924" y="168" width="1" height="40" fill="#737373"/><rect x="922" y="193" width="5" height="14" fill="#1e5631"/><rect x="923" y="194" width="3" height="12" fill="#6daa87"/><rect x="932" y="188" width="1" height="22" fill="#737373"/><rect x="930" y="201" width="5" height="5" fill="#1e5631"/><rect x="931" y="202" width="3" height="3" fill="#6daa87"/><rect x="939" y="189" width="1" height="32" fill="#737373"/><rect x="937" y="206" width="5" height="14" fill="#5f1410"/><rect x="938" y="207" width="3" height="12" fill="#de5a45"/><rect x="946" y="219" width="1" height="25" fill="#737373"/><rect x="944" y="224" width="5" height="16" fill="#5f1410"/><rect x="945" y="225" width="3" height="14" fill="#de5a45"/><rect x="953" y="218" width="1" height="23" fill="#737373"/><rect x="951" y="219" width="5" height="14" fill="#1e5631"/><rect x="952" y="220" width="3" height="12" fill="#6daa87"/><rect x="960" y="205" width="1" height="23" fill="#737373"/><rect x="958" y="212" width="5" height="14" fill="#1e5631"/><rect x="959" y="213" width="3" height="12" fill="#6daa87"/><rect x="967" y="177" width="1" height="34" fill="#737373"/><rect x="965" y="180" width="5" height="31" fill="#1e5631"/><rect x="966" y="181" width="3" height="29" fill="#6daa87"/><rect x="975" y="153" width="1" height="35" fill="#737373"/><rect x="973" y="159" width="5" height="24" fill="#1e5631"/><rect x="974" y="160" width="3" height="22" fill="#6daa87"/><rect x="982" y="150" width="1" height="17" fill="#737373"/><rect x="980" y="162" width="5" height="5" fill="#5f1410"/><rect x="981" y="163" width="3" height="3" fill="#de5a45"/><rect x="989" y="134" width="1" height="13" fill="#737373"/><rect x="987" y="135" width="5" height="8" fill="#1e5631"/><rect x="988" y="136" width="3" height="6" fill="#6daa87"/><rect x="996" y="126" width="1" height="15" fill="#737373"/><rect x="994" y="129" width="5" height="8" fill="#1e5631"/><rect x="995" y="130" width="3" height="6" fill="#6daa87"/><rect x="1003" y="131" width="1" height="16" fill="#737373"/><rect x="1001" y="134" width="5" height="12" fill="#5f1410"/><rect x="1002" y="135" width="3" height="10" fill="#de5a45"/><rect x="1011" y="119" width="1" height="28" fill="#737373"/><rect x="1009" y="123" width="5" height="24" fill="#1e5631"/><rect x="1010" y="124" width="3" height="22" fill="#6daa87"/><rect x="1018" y="115" width="1" height="23" fill="#737373"/><rect x="1016" y="119" width="5" height="5" fill="#5f1410"/><rect x="1017" y="120" width="3" height="3" fill="#de5a45"/><rect x="1025" y="120" width="1" height="27" fill="#737373"/><rect x="1023" y="128" width="5" height="9" fill="#1e5631"/><rect x="1024" y="129" width="3" height="7" fill="#6daa87"/><rect x="1032" y="121" width="1" height="16" fill="#737373"/><rect x="1030" y="128" width="5" height="3" fill="#5f1410"/><rect x="1031" y="129" width="3" height="1" fill="#de5a45"/><rect x="1039" y="133" width="1" height="22" fill="#737373"/><rect x="1037" y="134" width="5" height="20" fill="#5f1410"/><rect x="1038" y="135" width="3" height="18" fill="#de5a45"/><rect x="1046" y="137" width="1" height="19" fill="#737373"/><rect x="1044" y="147" width="5" height="5" fill="#5f1410"/><rect x="1045" y="148" width="3" height="3" fill="#de5a45"/><rect x="1054" y="123" width="1" height="33" fill="#737373"/><rect x="1052" y="123" width="5" height="29" fill="#1e5631"/><rect x="1053" y="124" width="3" height="27" fill="#6daa87"/><rect x="1061" y="105" width="1" height="17" fill="#737373"/><rect x="1059" y="108" width="5" height="14" fill="#1e5631"/><rect x="1060" y="109" width="3" height="12" fill="#6daa87"/><rect x="1068" y="113" width="1" height="15" fill="#737373"/><rect x="1066" y="114" width="5" height="7" fill="#5f1410"/><rect x="1067" y="115" width="3" height="5" fill="#de5a45"/><rect x="1075" y="112" width="1" height="12" fill="#737373"/><rect x="1073" y="119" width="5" height="2" fill="#1e5631"/><rect x="1082" y="126" width="1" height="35" fill="#737373"/><rect x="1080" y="127" width="5" height="30" fill="#5f1410"/><rect x="1081" y="128" width="3" height="28" fill="#de5a45"/><rect x="1090" y="144" width="1" height="37" fill="#737373"/><rect x="1088" y="161" width="5" height="20" fill="#5f1410"/><rect x="1089" y="162" width="3" height="18" fill="#de5a45"/><rect x="1097" y="148" width="1" height="30" fill="#737373"/><rect x="1095" y="149" width="5" height="28" fill="#1e5631"/><rect x="1096" y="150" width="3" height="26" fill="#6daa87"/><rect x="1104" y="144" width="1" height="21" fill="#737373"/><rect x="1102" y="151" width="5" height="12" fill="#5f1410"/><rect x="1103" y="152" width="3" height="10" fill="#de5a45"/><rect x="1111" y="146" width="1" height="24" fill="#737373"/><rect x="1109" y="161" width="5" height="3" fill="#1e5631"/><rect x="1110" y="162" width="3" height="1" fill="#6daa87"/><rect x="1118" y="152" width="1" height="31" fill="#737373"/><rect x="1116" y="167" width="5" height="11" fill="#5f1410"/><rect x="1117" y="168" width="3" height="9" fill="#de5a45"/><rect x="1125" y="164" width="1" height="19" fill="#737373"/><rect x="1123" y="175" width="5" height="8" fill="#5f1410"/><rect x="1124" y="176" width="3" height="6" fill="#de5a45"/><rect x="1133" y="173" width="1" height="31" fill="#737373"/><rect x="1131" y="183" width="5" height="7" fill="#5f1410"/><rect x="1132" y="184" width="3" height="5" fill="#de5a45"/><rect x="1140" y="175" width="1" height="27" fill="#737373"/><rect x="1138" y="178" width="5" height="19" fill="#1e5631"/><rect x="1139" y="179" width="3" height="17" fill="#6daa87"/><rect x="1147" y="177" width="1" height="25" fill="#737373"/><rect x="1145" y="183" width="5" height="19" fill="#5f1410"/><rect x="1146" y="184" width="3" height="17" fill="#de5a45"/><rect x="1154" y="190" width="1" height="32" fill="#737373"/><rect x="1152" y="197" width="5" height="19" fill="#5f1410"/><rect x="1153" y="198" width="3" height="17" fill="#de5a45"/><rect x="1161" y="201" width="1" height="29" fill="#737373"/><rect x="1159" y="211" width="5" height="3" fill="#5f1410"/><rect x="1160" y="212" width="3" height="1" fill="#de5a45"/><rect x="1168" y="220" width="1" height="26" fill="#737373"/><rect x="1166" y="221" width="5" height="14" fill="#5f1410"/><rect x="1167" y="222" width="3" height="12" fill="#de5a45"/><rect x="1176" y="221" width="1" height="19" fill="#737373"/><rect x="1174" y="225" width="5" height="12" fill="#1e5631"/><rect x="1175" y="226" width="3" height="10" fill="#6daa87"/><rect x="1183" y="223" width="1" height="15" fill="#737373"/><rect x="1181" y="225" width="5" height="9" fill="#5f1410"/><rect x="1182" y="226" width="3" height="7" fill="#de5a45"/><rect x="1190" y="225" width="1" height="22" fill="#737373"/><rect x="1188" y="230" width="5" height="11" fill="#1e5631"/><rect x="1189" y="231" width="3" height="9" fill="#6daa87"/><rect x="1197" y="235" width="1" height="13" fill="#737373"/><rect x="1195" y="243" width="5" height="2" fill="#5f1410"/><rect x="1204" y="230" width="1" height="17" fill="#737373"/><rect x="1202" y="232" width="5" height="14" fill="#1e5631"/><rect x="1203" y="233" width="3" height="12" fill="#6daa87"/><rect x="1212" y="232" width="1" height="13" fill="#737373"/><rect x="1210" y="233" width="5" height="9" fill="#5f1410"/><rect x="1211" y="234" width="3" height="7" fill="#de5a45"/><rect x="1219" y="233" width="1" height="24" fill="#737373"/><rect x="1217" y="244" width="5" height="11" fill="#5f1410"/><rect x="1218" y="245" width="3" height="9" fill="#de5a45"/><rect x="1226" y="248" width="1" height="23" fill="#737373"/><rect x="1224" y="260" width="5" height="1" fill="#5f1410"/><rect x="1233" y="267" width="1" height="26" fill="#737373"/><rect x="1231" y="273" width="5" height="19" fill="#5f1410"/><rect x="1232" y="274" width="3" height="17" fill="#de5a45"/><rect x="1240" y="283" width="1" height="32" fill="#737373"/><rect x="1238" y="291" width="5" height="12" fill="#5f1410"/><rect x="1239" y="292" width="3" height="10" fill="#de5a45"/><rect x="1247" y="279" width="1" height="38" fill="#737373"/><rect x="1245" y="282" width="5" height="27" fill="#1e5631"/><rect x="1246" y="283" width="3" height="25" fill="#6daa87"/><rect x="1255" y="291" width="1" height="16" fill="#737373"/><rect x="1253" y="291" width="5" height="16" fill="#5f1410"/><rect x="1254" y="292" width="3" height="14" fill="#de5a45"/><rect x="1262" y="271" width="1" height="41" fill="#737373"/><rect x="1260" y="287" width="5" height="25" fill="#1e5631"/><rect x="1261" y="288" width="3" height="23" fill="#6daa87"/><rect x="1269" y="261" width="1" height="31" fill="#737373"/><rect x="1267" y="263" width="5" height="27" fill="#1e5631"/><rect x="1268" y="264" width="3" height="25" fill="#6daa87"/><rect x="1276" y="254" width="1" height="14" fill="#737373"/><rect x="1274" y="261" width="5" height="5" fill="#1e5631"/><rect x="1275" y="262" width="3" height="3" fill="#6daa87"/><rect x="1283" y="260" width="1" height="18" fill="#737373"/><rect x="1281" y="262" width="5" height="13" fill="#5f1410"/><rect x="1282" y="263" width="3" height="11" fill="#de5a45"/><rect x="1291" y="262" width="1" height="36" fill="#737373"/><rect x="1289" y="272" width="5" height="25" fill="#5f1410"/><rect x="1290" y="273" width="3" height="23" fill="#de5a45"/><rect x="1298" y="296" width="1" height="32" fill="#737373"/><rect x="1296" y="298" width="5" height="5" fill="#5f1410"/><rect x="1297" y="299" width="3" height="3" fill="#de5a45"/><rect x="1305" y="304" width="1" height="27" fill="#737373"/><rect x="1303" y="311" width="5" height="16" fill="#5f1410"/><rect x="1304" y="312" width="3" height="14" fill="#de5a45"/><rect x="1312" y="290" width="1" height="53" fill="#737373"/><rect x="1310" y="294" width="5" height="36" fill="#1e5631"/><rect x="1311" y="295" width="3" height="34" fill="#6daa87"/><rect x="1319" y="294" width="1" height="21" fill="#737373"/><rect x="1317" y="303" width="5" height="10" fill="#5f1410"/><rect x="1318" y="304" width="3" height="8" fill="#de5a45"/><rect x="1326" y="283" width="1" height="21" fill="#737373"/><rect x="1324" y="284" width="5" height="13" fill="#1e5631"/><rect x="1325" y="285" width="3" height="11" fill="#6daa87"/><rect x="1334" y="278" width="1" height="13" fill="#737373"/><rect x="1332" y="284" width="5" height="5" fill="#1e5631"/><rect x="1333" y="285" width="3" height="3" fill="#6daa87"/></g>
<line x1="3" y1="324" x2="1409" y2="324" stroke="#000" stroke-width="2" stroke-dasharray="10 12" shape-rendering="crispEdges"/>
<rect x="701" y="319" width="11" height="11" rx="3.2" fill="#fff" stroke="#1246e0" stroke-width="2"/>
<polyline points="3.0,739.2 11.7,739.9 20.0,724.4 27.0,733.3 34.1,736.9 41.1,733.8 48.2,738.0 56.4,752.6 63.4,754.0 70.0,755.2 77.5,744.6 84.6,733.8 91.6,731.0 98.7,725.1 105.7,722.3 112.8,721.1 119.8,719.2 126.9,719.9 135.1,716.9 142.1,711.7 148.0,710.3 156.2,709.8 162.1,708.4 169.1,711.7 177.4,709.4 184.4,704.0 192.2,699.3 199.2,704.7 206.3,708.4 213.8,704.7 220.8,701.1 227.9,710.5 234.9,711.2 242.0,715.7 249.0,729.1 256.1,727.5 264.3,732.6 271.3,734.5 278.4,733.3 285.4,729.8 292.5,749.3 299.5,749.3 306.6,746.3 314.8,738.0 321.4,734.0 328.4,725.8 335.9,729.1 343.0,729.8 349.4,731.0 357.6,734.0 363.5,734.3 371.7,736.2 378.8,735.7 385.8,732.2 392.9,731.9 399.9,732.9 407.0,729.8 414.7,720.4 421.7,711.7 429.3,709.8 435.8,710.3 442.9,714.1 449.9,719.2 457.5,731.7 464.5,733.3 471.5,734.0 478.6,732.6 486.1,729.6 493.2,728.9 500.9,728.6 508.0,738.0 515.0,743.9 522.0,735.7 529.1,746.3 536.1,743.9 543.9,733.3 550.9,717.6 558.5,711.0 565.0,712.7 572.6,722.3 579.6,729.3 586.7,732.6 594.2,738.7 600.8,740.8 607.8,728.6 614.8,719.7 621.9,711.5 630.1,703.3 636.5,701.1 644.2,696.5 651.3,695.5 658.3,695.7 665.4,700.0 672.4,700.9 679.4,703.5 687.0,704.0 695.3,702.1 703.5,702.8 710.5,703.3 717.6,704.7 723.5,705.8 729.3,706.3 736.4,704.9 743.4,704.2 750.5,705.8 758.7,707.5 765.7,707.3 774.0,700.4 781.0,701.6 788.0,701.9 795.1,700.4 802.2,711.5 809.2,717.6 817.4,725.8 823.8,737.3 830.3,736.6 837.9,725.1 844.4,704.4 852.7,702.6 859.7,706.8 866.8,712.9 873.8,719.7 880.8,726.3 887.9,724.6 894.9,726.3 902.7,719.7 909.7,727.2 916.8,714.1 924.3,700.7 931.4,705.8 938.4,710.3 945.4,723.5 952.5,719.2 959.5,713.4 966.6,700.0 974.8,690.6 981.9,691.8 988.9,687.8 996.0,690.6 1003.0,697.4 1010.0,697.4 1018.3,699.7 1024.7,702.8 1031.7,704.0 1038.8,708.7 1045.8,709.8 1054.1,707.5 1061.1,702.3 1068.2,705.1 1075.2,705.6 1082.3,714.5 1089.3,723.9 1096.3,722.5 1103.4,724.4 1110.4,727.5 1118.2,735.0 1125.2,736.9 1132.8,739.4 1139.8,735.0 1146.9,735.4 1153.9,738.5 1160.9,738.3 1168.0,740.4 1175.0,736.2 1182.1,734.3 1189.1,732.9 1196.2,732.6 1204.4,729.8 1211.5,729.3 1218.5,730.3 1225.5,732.2 1232.6,736.9 1239.6,739.4 1246.7,735.7 1254.9,736.9 1262.0,731.5 1269.0,725.1 1276.1,720.9 1283.1,722.8 1291.3,727.0 1298.4,733.3 1305.0,735.2 1311.8,730.3 1318.8,727.9 1325.9,721.6 1333.6,718.1" fill="none" stroke="#2962ff" stroke-width="1.2" stroke-linejoin="round" />
<polyline points="3.0,793.2 23.5,793.9 44.6,795.1 58.7,793.2 70.5,791.4 89.3,791.4 99.8,790.0 117.5,792.1 141.0,792.8 164.4,794.4 187.9,796.3 211.4,797.5 234.9,797.7 258.4,798.6 272.5,799.1 284.2,799.8 291.3,797.9 312.4,797.9 320.6,795.6 333.6,795.6 340.0,796.3 363.5,795.3 377.6,794.4 391.7,795.3 407.0,795.3 415.2,793.7 422.2,794.2 436.3,796.1 443.4,796.1 450.4,794.4 457.5,793.5 471.5,793.9 485.6,794.2 502.1,793.2 509.1,791.6 515.0,787.8 522.0,788.5 529.1,784.5 537.3,782.7 544.4,779.8 551.4,777.5 558.5,778.4 565.5,778.9 574.9,778.2 586.7,777.5 593.7,772.3 600.8,768.6 607.8,763.2 614.8,763.4 621.9,764.6 629.0,765.7 636.5,767.2 644.2,764.6 651.3,766.0 658.3,767.9 665.4,768.8 672.4,768.8 679.4,767.4 687.0,766.7 695.3,768.6 703.5,770.9 716.4,774.0 731.7,776.1 750.5,779.1 762.2,780.3 778.7,782.7 795.1,785.5 806.9,784.5 820.9,785.5 830.3,784.8 844.4,785.7 858.5,787.4 873.8,789.5 886.7,789.0 895.6,789.5 903.2,786.4 910.2,785.2 917.3,783.6 924.3,783.6 931.4,784.5 940.8,785.5 957.2,787.4 973.6,787.4 981.9,788.5 988.9,788.5 1001.8,790.7 1018.3,791.6 1031.7,792.5 1043.5,793.5 1054.1,793.0 1067.0,794.4 1075.2,795.6 1082.3,793.9 1090.5,792.8 1097.5,792.5 1114.0,793.5 1125.7,794.2 1132.8,793.5 1149.2,793.5 1168.0,792.5 1182.1,794.4 1198.5,795.6 1212.6,797.2 1224.4,797.2 1239.6,795.6 1249.0,794.4 1254.9,794.9 1264.3,793.5 1270.2,793.5 1283.1,795.3 1292.5,794.4 1304.2,793.5 1311.8,791.6 1318.8,792.5 1325.9,792.5 1333.6,793.5" fill="none" stroke="#c62828" stroke-width="1.1" stroke-linejoin="round" />
<rect x="1409" y="2" width="1" height="829" fill="#505050" shape-rendering="crispEdges"/>
<rect x="3" y="803" width="1484" height="1" fill="#505050" shape-rendering="crispEdges"/>
<rect x="3" y="683" width="1484" height="1" fill="#e0e3eb" shape-rendering="crispEdges"/>
<rect x="3" y="760" width="1484" height="1" fill="#e0e3eb" shape-rendering="crispEdges"/>
<text x="1418.3" y="50.8" font-family="'Liberation Sans', Arial, sans-serif" font-size="12" fill="#4a4a4a" textLength="58.7" lengthAdjust="spacingAndGlyphs">3,240.0000</text>
<text x="1418.3" y="85.8" font-family="'Liberation Sans', Arial, sans-serif" font-size="12" fill="#4a4a4a" textLength="58.7" lengthAdjust="spacingAndGlyphs">3,200.0000</text>
<text x="1418.3" y="120.8" font-family="'Liberation Sans', Arial, sans-serif" font-size="12" fill="#4a4a4a" textLength="58.7" lengthAdjust="spacingAndGlyphs">3,160.0000</text>
<text x="1418.3" y="155.8" font-family="'Liberation Sans', Arial, sans-serif" font-size="12" fill="#4a4a4a" textLength="58.7" lengthAdjust="spacingAndGlyphs">3,120.0000</text>
<text x="1418.3" y="190.8" font-family="'Liberation Sans', Arial, sans-serif" font-size="12" fill="#4a4a4a" textLength="58.7" lengthAdjust="spacingAndGlyphs">3,080.0000</text>
<text x="1418.3" y="225.8" font-family="'Liberation Sans', Arial, sans-serif" font-size="12" fill="#4a4a4a" textLength="58.7" lengthAdjust="spacingAndGlyphs">3,040.0000</text>
<text x="1418.3" y="260.8" font-family="'Liberation Sans', Arial, sans-serif" font-size="12" fill="#4a4a4a" textLength="58.7" lengthAdjust="spacingAndGlyphs">3,000.0000</text>
<text x="1418.3" y="295.8" font-family="'Liberation Sans', Arial, sans-serif" font-size="12" fill="#4a4a4a" textLength="58.7" lengthAdjust="spacingAndGlyphs">2,960.0000</text>
<text x="1418.3" y="366.8" font-family="'Liberation Sans', Arial, sans-serif" font-size="12" fill="#4a4a4a" textLength="58.7" lengthAdjust="spacingAndGlyphs">2,880.0000</text>
<text x="1418.3" y="401.8" font-family="'Liberation Sans', Arial, sans-serif" font-size="12" fill="#4a4a4a" textLength="58.7" lengthAdjust="spacingAndGlyphs">2,840.0000</text>
<text x="1418.3" y="436.8" font-family="'Liberation Sans', Arial, sans-serif" font-size="12" fill="#4a4a4a" textLength="58.7" lengthAdjust="spacingAndGlyphs">2,800.0000</text>
<text x="1418.3" y="471.8" font-family="'Liberation Sans', Arial, sans-serif" font-size="12" fill="#4a4a4a" textLength="58.7" lengthAdjust="spacingAndGlyphs">2,760.0000</text>
<text x="1418.3" y="506.8" font-family="'Liberation Sans', Arial, sans-serif" font-size="12" fill="#4a4a4a" textLength="58.7" lengthAdjust="spacingAndGlyphs">2,720.0000</text>
<text x="1418.3" y="541.8" font-family="'Liberation Sans', Arial, sans-serif" font-size="12" fill="#4a4a4a" textLength="58.7" lengthAdjust="spacingAndGlyphs">2,680.0000</text>
<text x="1418.3" y="576.8" font-family="'Liberation Sans', Arial, sans-serif" font-size="12" fill="#4a4a4a" textLength="58.7" lengthAdjust="spacingAndGlyphs">2,640.0000</text>
<text x="1418.3" y="612.8" font-family="'Liberation Sans', Arial, sans-serif" font-size="12" fill="#4a4a4a" textLength="58.7" lengthAdjust="spacingAndGlyphs">2,600.0000</text>
<text x="1418.3" y="647.8" font-family="'Liberation Sans', Arial, sans-serif" font-size="12" fill="#4a4a4a" textLength="58.7" lengthAdjust="spacingAndGlyphs">2,560.0000</text>
<text x="1418.3" y="682.8" font-family="'Liberation Sans', Arial, sans-serif" font-size="12" fill="#4a4a4a" textLength="58.7" lengthAdjust="spacingAndGlyphs">2,520.0000</text>
<text x="1417.8" y="720.9" font-family="'Liberation Sans', Arial, sans-serif" font-size="12" fill="#4a4a4a" textLength="23.2" lengthAdjust="spacingAndGlyphs">0.00</text>
<text x="1418.2" y="755.0" font-family="'Liberation Sans', Arial, sans-serif" font-size="12" fill="#4a4a4a" textLength="41.7" lengthAdjust="spacingAndGlyphs">−250.00</text>
<text x="1418.2" y="788.9" font-family="'Liberation Sans', Arial, sans-serif" font-size="12" fill="#4a4a4a" textLength="41.7" lengthAdjust="spacingAndGlyphs">40.0000</text>
<path d="M1409,97 h72 a2,2 0 0 1 2,2 v13 a2,2 0 0 1 -2,2 h-72 z" fill="#000"/>
<text x="1418" y="109.2" font-family="'Liberation Sans', Arial, sans-serif" font-size="12" fill="#fff" textLength="58.8" lengthAdjust="spacingAndGlyphs" font-weight="bold">3,174.5639</text>
<path d="M1409,168 h72 a2,2 0 0 1 2,2 v13 a2,2 0 0 1 -2,2 h-72 z" fill="#000"/>
<text x="1418" y="180.2" font-family="'Liberation Sans', Arial, sans-serif" font-size="12" fill="#fff" textLength="58.8" lengthAdjust="spacingAndGlyphs" font-weight="bold">3,093.7120</text>
<path d="M1409,316 h72 a2,2 0 0 1 2,2 v13 a2,2 0 0 1 -2,2 h-72 z" fill="#000"/>
<text x="1418" y="328.2" font-family="'Liberation Sans', Arial, sans-serif" font-size="12" fill="#fff" textLength="58.8" lengthAdjust="spacingAndGlyphs" font-weight="bold">2,925.1754</text>
<path d="M1409,570 h72 a2,2 0 0 1 2,2 v13 a2,2 0 0 1 -2,2 h-72 z" fill="#000"/>
<text x="1418" y="582.2" font-family="'Liberation Sans', Arial, sans-serif" font-size="12" fill="#fff" textLength="58.8" lengthAdjust="spacingAndGlyphs" font-weight="bold">2,635.9303</text>
<text x="111.0" y="820.9" font-family="'Liberation Sans', Arial, sans-serif" font-size="12" fill="#4a4a4a" textLength="19.1" lengthAdjust="spacingAndGlyphs">Nov</text>
<text x="268.6" y="820.9" font-family="'Liberation Sans', Arial, sans-serif" font-size="12" fill="#4a4a4a" textLength="19.2" lengthAdjust="spacingAndGlyphs">Dec</text>
<text x="415.2" y="820.9" font-family="'Liberation Sans', Arial, sans-serif" font-size="12" fill="#555" textLength="27.5" lengthAdjust="spacingAndGlyphs" font-weight="bold">2024</text>
<text x="577.5" y="820.9" font-family="'Liberation Sans', Arial, sans-serif" font-size="12" fill="#4a4a4a" textLength="19.1" lengthAdjust="spacingAndGlyphs">Feb</text>
<text x="685.4" y="820.9" font-family="'Liberation Sans', Arial, sans-serif" font-size="12" fill="#4a4a4a" textLength="19.2" lengthAdjust="spacingAndGlyphs">Mar</text>
<text x="836.4" y="820.9" font-family="'Liberation Sans', Arial, sans-serif" font-size="12" fill="#4a4a4a" textLength="18.7" lengthAdjust="spacingAndGlyphs">Apr</text>
<text x="978.4" y="820.9" font-family="'Liberation Sans', Arial, sans-serif" font-size="12" fill="#4a4a4a" textLength="21.4" lengthAdjust="spacingAndGlyphs">May</text>
<text x="1123.7" y="820.9" font-family="'Liberation Sans', Arial, sans-serif" font-size="12" fill="#4a4a4a" textLength="18.7" lengthAdjust="spacingAndGlyphs">Jun</text>
<text x="1261.0" y="820.9" font-family="'Liberation Sans', Arial, sans-serif" font-size="12" fill="#4a4a4a" textLength="15.2" lengthAdjust="spacingAndGlyphs">Jul</text>
<text x="1370.0" y="820.9" font-family="'Liberation Sans', Arial, sans-serif" font-size="12" fill="#4a4a4a" textLength="13.2" lengthAdjust="spacingAndGlyphs">22</text>
<g fill="#fff" fill-opacity="0.55"><rect x="7" y="2" width="732" height="29"/><rect x="7" y="32" width="215" height="28"/><rect x="7" y="64.5" width="160" height="20"/><rect x="7" y="88.5" width="160" height="20"/><rect x="7" y="112.5" width="163" height="20"/></g>
<circle cx="21" cy="17.8" r="9" fill="#2b4478"/>
<circle cx="21" cy="17.8" r="5.2" fill="#fff"/>
<path d="M16.6,19.6 C18,19.2 18.8,17.6 20,16.6 C21,15.8 22,16.2 22.6,17.2 M19.6,19.4 C20.6,18.6 21.4,17.2 22.6,16.6 C23.6,16.2 24.6,17 25.2,17.8" fill="none" stroke="#2b4478" stroke-width="1.1"/>
<text x="34.4" y="23.9" font-family="'Liberation Sans', Arial, sans-serif" font-size="14.5" fill="#444" textLength="146.9" lengthAdjust="spacingAndGlyphs">SSE Composite Index</text>
<text x="187.3" y="23.9" font-family="'Liberation Sans', Arial, sans-serif" font-size="14.5" fill="#444" text-anchor="middle">·</text>
<text x="195.3" y="23.9" font-family="'Liberation Sans', Arial, sans-serif" font-size="14.5" fill="#444" textLength="15.7" lengthAdjust="spacingAndGlyphs">1D</text>
<text x="217.5" y="23.9" font-family="'Liberation Sans', Arial, sans-serif" font-size="14.5" fill="#444" text-anchor="middle">·</text>
<text x="224.3" y="23.9" font-family="'Liberation Sans', Arial, sans-serif" font-size="14.5" fill="#444" textLength="22.8" lengthAdjust="spacingAndGlyphs">SSE</text>
<path d="M272,9 h11 v18 h-11 a9,9 0 0 1 0,-18 z" fill="#eeeff2"/>
<path d="M283,9 h11 a9,9 0 0 1 0,18 h-11 z" fill="#ffe8c4"/>
<rect x="269" y="16.6" width="10" height="3.2" rx="1.6" fill="#8c8f98"/>
<text x="288.6" y="22.8" font-family="'Liberation Sans', Arial, sans-serif" font-size="12" fill="#f57c00" textLength="7.6" lengthAdjust="spacingAndGlyphs" font-weight="bold">D</text>
<text x="319.1" y="22.7" font-family="'Liberation Sans', Arial, sans-serif" font-size="12" textLength="72.1" lengthAdjust="spacingAndGlyphs"><tspan fill="#555">O</tspan><tspan fill="#2e6b45">2,965.6121</tspan></text>
<text x="399.3" y="22.7" font-family="'Liberation Sans', Arial, sans-serif" font-size="12" textLength="71.9" lengthAdjust="spacingAndGlyphs"><tspan fill="#555">H</tspan><tspan fill="#2e6b45">2,977.1416</tspan></text>
<text x="478.8" y="22.7" font-family="'Liberation Sans', Arial, sans-serif" font-size="12" textLength="70.1" lengthAdjust="spacingAndGlyphs"><tspan fill="#555">L</tspan><tspan fill="#2e6b45">2,963.3032</tspan></text>
<text x="555.9" y="22.7" font-family="'Liberation Sans', Arial, sans-serif" font-size="12" textLength="72.0" lengthAdjust="spacingAndGlyphs"><tspan fill="#555">C</tspan><tspan fill="#2e6b45">2,971.2949</tspan></text>
<text x="635.9" y="22.7" font-family="'Liberation Sans', Arial, sans-serif" font-size="12" fill="#2e6b45" textLength="44.3" lengthAdjust="spacingAndGlyphs">+0.9074</text>
<text x="685.4" y="22.7" font-family="'Liberation Sans', Arial, sans-serif" font-size="12" fill="#2e6b45" textLength="47.5" lengthAdjust="spacingAndGlyphs">(+0.03%)</text>
<rect x="11.5" y="34.5" width="79" height="22.5" rx="4" fill="#fff" stroke="#f23645" stroke-width="1"/>
<text x="19.3" y="50.5" font-family="'Liberation Sans', Arial, sans-serif" font-size="12" fill="#f23645" textLength="63.4" lengthAdjust="spacingAndGlyphs">2,971.2949</text>
<text x="99.3" y="50.5" font-family="'Liberation Sans', Arial, sans-serif" font-size="12" fill="#131722" textLength="32.2" lengthAdjust="spacingAndGlyphs">0.0000</text>
<rect x="140.5" y="34.5" width="79" height="22.5" rx="4" fill="#fff" stroke="#2962ff" stroke-width="1"/>
<text x="148.5" y="50.5" font-family="'Liberation Sans', Arial, sans-serif" font-size="12" fill="#2962ff" textLength="63.5" lengthAdjust="spacingAndGlyphs">2,971.2949</text>
<text x="12.1" y="78.8" font-family="'Liberation Sans', Arial, sans-serif" font-size="12" fill="#4a4a4a" textLength="73.3" lengthAdjust="spacingAndGlyphs">SMA 20 close</text>
<text x="94.6" y="78.8" font-family="'Liberation Sans', Arial, sans-serif" font-size="12" fill="#f23645" textLength="63.3" lengthAdjust="spacingAndGlyphs">2,975.5560</text>
<text x="12.1" y="102.5" font-family="'Liberation Sans', Arial, sans-serif" font-size="12" fill="#4a4a4a" textLength="73.3" lengthAdjust="spacingAndGlyphs">SMA 50 close</text>
<text x="94.6" y="102.5" font-family="'Liberation Sans', Arial, sans-serif" font-size="12" fill="#2a2af0" textLength="63.3" lengthAdjust="spacingAndGlyphs">3,054.2027</text>
<text x="12.1" y="126.6" font-family="'Liberation Sans', Arial, sans-serif" font-size="12" fill="#4a4a4a" textLength="80.5" lengthAdjust="spacingAndGlyphs">SMA 200 close</text>
<text x="101.3" y="126.6" font-family="'Liberation Sans', Arial, sans-serif" font-size="12" fill="#131722" textLength="63.5" lengthAdjust="spacingAndGlyphs">3,012.4004</text>
<rect x="12.5" y="136.5" width="27.5" height="19.5" rx="3" fill="#fff" stroke="#e0e3eb" stroke-width="1"/>
<path d="M23.2,148.6 L26.4,145.4 L29.6,148.6" fill="none" stroke="#131722" stroke-width="1.5" stroke-linecap="round" stroke-linejoin="round"/>
<rect x="7" y="692" width="114" height="20" fill="#fff" fill-opacity="0.55"/>
<text x="12.1" y="704.7" font-family="'Liberation Sans', Arial, sans-serif" font-size="12" fill="#4a4a4a" textLength="101.4" lengthAdjust="spacingAndGlyphs">CCI 20 hlc3 SMA 5</text>
<text x="122.6" y="704.7" font-family="'Liberation Sans', Arial, sans-serif" font-size="12" fill="#2962ff" textLength="37.4" lengthAdjust="spacingAndGlyphs">−12.82</text>
<rect x="18.5" y="770" width="24" height="20" fill="#fff"/>
<g fill="#8b8e97"><path d="M17.7,773.4 H27 V788.7 H21 V777.8 H17.7 Z"/><path d="M37.8,774 H44.8 L38.9,788.7 H32.1 Z"/></g>
<text x="12.2" y="781.7" font-family="'Liberation Sans', Arial, sans-serif" font-size="12" fill="#4a4a4a" textLength="67.2" lengthAdjust="spacingAndGlyphs">ATR 14 RMA</text>
<text x="87.9" y="781.7" font-family="'Liberation Sans', Arial, sans-serif" font-size="12" fill="#c62828" textLength="44.6" lengthAdjust="spacingAndGlyphs">30.7929</text>
<defs><filter id="sh" x="-5%" y="-30%" width="110%" height="170%"><feDropShadow dx="0" dy="1.5" stdDeviation="1.8" flood-color="#000" flood-opacity="0.16"/></filter></defs>
<rect x="907.5" y="13" width="395.5" height="37.8" rx="7" fill="#fff" stroke="#e6e8ee" stroke-width="1" filter="url(#sh)"/>
<rect x="914.7" y="25.7" width="2" height="2" fill="#b2b5be"/>
<rect x="914.7" y="30.8" width="2" height="2" fill="#b2b5be"/>
<rect x="914.7" y="36" width="2" height="2" fill="#b2b5be"/>
<rect x="921" y="25.7" width="2" height="2" fill="#b2b5be"/>
<rect x="921" y="30.8" width="2" height="2" fill="#b2b5be"/>
<rect x="921" y="36" width="2" height="2" fill="#b2b5be"/>
<g fill="none" stroke="#131722" stroke-width="1.2"><rect x="942.6" y="24.9" width="6.2" height="6.2" rx="1.6"/><rect x="951.4" y="24.9" width="6.2" height="6.2" rx="1.6"/><rect x="942.6" y="33" width="6.2" height="6.2" rx="1.6"/><path d="M954.5,32.6 V39.6 M951,36.1 H958"/></g>
<g fill="none" stroke="#131722" stroke-width="1.2" stroke-linejoin="round"><path d="M980.6,35.2 L980.6,31.2 L991.6,20.2 Q992.9,19 994.2,20.2 L995.4,21.4 Q996.6,22.7 995.4,24 L984.6,35.2 Z M989.6,22.2 L993.6,26.2"/></g>
<rect x="977" y="40" width="22" height="4" rx="2" fill="#000"/>
<rect x="1017" y="30.6" width="18" height="2.6" rx="0.5" fill="#131722"/>
<text x="1042.3" y="37" font-family="'Liberation Sans', Arial, sans-serif" font-size="14" fill="#333" textLength="22" lengthAdjust="spacingAndGlyphs">2px</text>
<g fill="#131722"><rect x="1084" y="31" width="4" height="1.3"/><rect x="1092.5" y="31" width="4" height="1.3"/><rect x="1101" y="31" width="4.2" height="1.3"/></g>
<g fill="none" stroke="#131722" stroke-width="1.2"><path d="M1127.3,23.3 H1136.7 L1141.6,31.9 L1136.7,40.5 H1127.3 L1122.4,31.9 Z"/><circle cx="1132" cy="31.9" r="3"/></g>
<g fill="none" stroke="#131722" stroke-width="1.2" stroke-linecap="round"><path d="M1172.5,40.2 A8,8 0 1 1 1177.6,32.6"/><path d="M1169.6,27.6 V32.4 H1166.2"/><path d="M1160.4,25.6 L1163,23.2 M1178.6,25.6 L1176,23.2"/><path d="M1175.6,34.6 V42.4 M1171.7,38.5 H1179.5"/></g>
<g fill="none" stroke="#131722" stroke-width="1.2"><rect x="1200.4" y="30.6" width="15.4" height="11" rx="1.6"/><path d="M1204.2,30.6 V27.2 A3.8,3.8 0 0 1 1211.8,27.2 V27.8"/></g>
<rect x="1207.4" y="34.2" width="1.6" height="3.2" fill="#131722"/>
<g fill="none" stroke="#131722" stroke-width="1.2" stroke-linejoin="round"><path d="M1237,24.8 H1255"/><path d="M1242.6,24.8 V22.8 H1249.4 V24.8"/><path d="M1239,24.8 L1240.6,41.4 H1251.4 L1253,24.8"/></g>
<g fill="none" stroke="#131722" stroke-width="1.2"><circle cx="1277.3" cy="32.5" r="2.3"/><circle cx="1284.5" cy="32.5" r="2.3"/><circle cx="1291.7" cy="32.5" r="2.3"/></g>
<rect x="1413.5" y="6.5" width="69" height="25" rx="4.5" fill="#fff" stroke="#e0e3eb" stroke-width="1"/>
<text x="1417.3" y="23.1" font-family="'Liberation Sans', Arial, sans-serif" font-size="12.5" fill="#131722" textLength="21.4" lengthAdjust="spacingAndGlyphs">CNY</text>
<path d="M1473.2,18.2 L1475.6,20.6 L1478,18.2" fill="none" stroke="#131722" stroke-width="1.3" stroke-linecap="round"/>
<g fill="none" stroke="#9c27b0" stroke-width="1.5" stroke-linecap="round"><path d="M1337.6,660.6 A9.6,9.6 0 1 0 1344.2,667.2"/></g>
<path d="M1337,665.8 L1331.2,670.6 L1337.8,670.6 L1331.9,675.6" fill="none" stroke="#9c27b0" stroke-width="1.7" stroke-linejoin="round" stroke-linecap="round"/>
<circle cx="1341.4" cy="663.5" r="2.6" fill="#f23645"/>
<g fill="none" stroke="#131722" stroke-width="1.1"><path d="M1444.3,811.6 H1452.5 L1455.7,817.4 L1452.5,823.2 H1444.3 L1441.1,817.4 Z"/><circle cx="1448.4" cy="817.4" r="2.2"/></g>
</svg>
</body></html>
